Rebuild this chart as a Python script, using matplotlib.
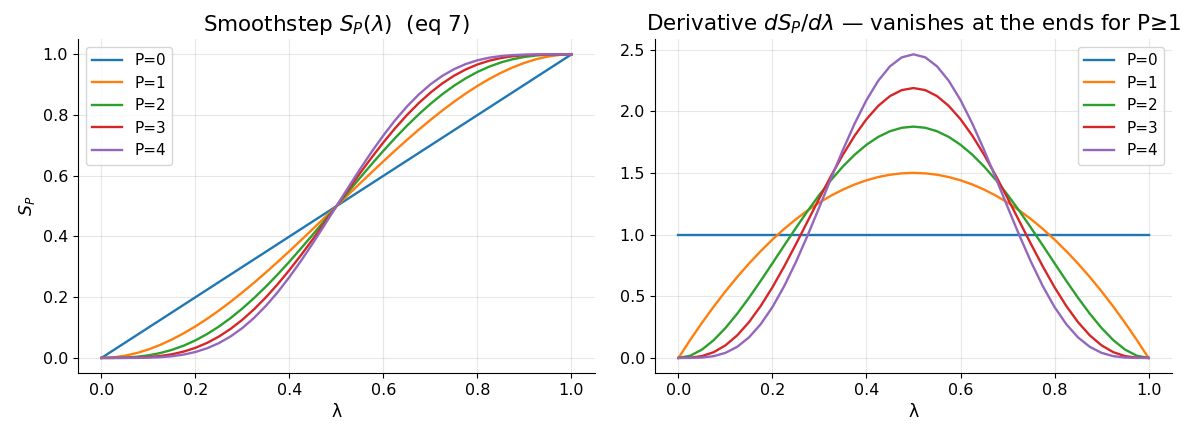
import numpy as np
import matplotlib
matplotlib.use("Agg")
import matplotlib.pyplot as plt

plt.rcParams['font.family'] = ['DejaVu Sans']

# lambda samples (0 .. 1, step 0.025)
lam = [0.000, 0.025, 0.050, 0.075, 0.100, 0.125, 0.150, 0.175, 0.200, 0.225,
       0.250, 0.275, 0.300, 0.325, 0.350, 0.375, 0.400, 0.425, 0.450, 0.475,
       0.500, 0.525, 0.550, 0.575, 0.600, 0.625, 0.650, 0.675, 0.700, 0.725,
       0.750, 0.775, 0.800, 0.825, 0.850, 0.875, 0.900, 0.925, 0.950, 0.975,
       1.000]

labels = ["P=0", "P=1", "P=2", "P=3", "P=4"]

# smoothstep S_P(lambda)
s_p0 = list(lam)
s_p1 = [0.0, 0.00184, 0.00725, 0.01603, 0.028, 0.04297, 0.06075, 0.08116, 0.104, 0.12909,
        0.15625, 0.18528, 0.216, 0.24822, 0.28175, 0.31641, 0.352, 0.38834, 0.42525, 0.46253,
        0.5, 0.53747, 0.57475, 0.61166, 0.648, 0.68359, 0.71825, 0.75178, 0.784, 0.81472,
        0.84375, 0.87091, 0.896, 0.91884, 0.93925, 0.95703, 0.972, 0.98397, 0.99275, 0.99816,
        1.0]
s_p2 = [0.0, 0.00015, 0.00116, 0.00376, 0.00856, 0.01605, 0.02661, 0.04051, 0.05792, 0.07892,
        0.10352, 0.13162, 0.16308, 0.19769, 0.23517, 0.27521, 0.31744, 0.36147, 0.40687, 0.4532,
        0.5, 0.5468, 0.59313, 0.63853, 0.68256, 0.72479, 0.76483, 0.80231, 0.83692, 0.86838,
        0.89648, 0.92108, 0.94208, 0.95949, 0.97339, 0.98395, 0.99144, 0.99624, 0.99884, 0.99985,
        1.0]
s_p3 = [0.0, 0.00001, 0.00019, 0.00092, 0.00273, 0.00624, 0.0121, 0.02095, 0.03334, 0.04976,
        0.07056, 0.09595, 0.12604, 0.16074, 0.19985, 0.24302, 0.28979, 0.33958, 0.39171, 0.44545,
        0.5, 0.55455, 0.60829, 0.66042, 0.71021, 0.75698, 0.80015, 0.83926, 0.87396, 0.90405,
        0.92944, 0.95024, 0.96666, 0.97905, 0.9879, 0.99376, 0.99727, 0.99908, 0.99981, 0.99999,
        1.0]
s_p4 = [0.0, 0.0, 0.00003, 0.00023, 0.00089, 0.00248, 0.00563, 0.01106, 0.01958, 0.03196,
        0.04893, 0.07107, 0.09881, 0.13236, 0.17172, 0.21662, 0.26657, 0.32086, 0.37858, 0.43868,
        0.5, 0.56132, 0.62142, 0.67914, 0.73343, 0.78338, 0.82828, 0.86764, 0.90119, 0.92893,
        0.95107, 0.96804, 0.98042, 0.98894, 0.99437, 0.99752, 0.99911, 0.99977, 0.99997, 1.0,
        1.0]

# derivative dS_P/dlambda
d_p0 = [1.0] * len(lam)
d_p1 = [0.0, 0.14625, 0.285, 0.41625, 0.54, 0.65625, 0.765, 0.86625, 0.96, 1.04625,
        1.125, 1.19625, 1.26, 1.31625, 1.365, 1.40625, 1.44, 1.46625, 1.485, 1.49625,
        1.5, 1.49625, 1.485, 1.46625, 1.44, 1.40625, 1.365, 1.31625, 1.26, 1.19625,
        1.125, 1.04625, 0.96, 0.86625, 0.765, 0.65625, 0.54, 0.41625, 0.285, 0.14625,
        0.0]
d_p2 = [0.0, 0.0178, 0.0677, 0.1444, 0.243, 0.3589, 0.4877, 0.6253, 0.768, 0.9122,
        1.0547, 1.1925, 1.323, 1.4438, 1.5527, 1.6479, 1.728, 1.7916, 1.8377, 1.8656,
        1.875, 1.8656, 1.8377, 1.7916, 1.728, 1.6479, 1.5527, 1.4438, 1.323, 1.1925,
        1.0547, 0.9122, 0.768, 0.6253, 0.4877, 0.3589, 0.243, 0.1444, 0.0677, 0.0178,
        0.0]
d_p3 = [0.0, 0.0020, 0.0150, 0.0467, 0.1021, 0.1832, 0.2902, 0.4213, 0.5734, 0.7423,
        0.9229, 1.1095, 1.2965, 1.4781, 1.6484, 1.8024, 1.9354, 2.0431, 2.1225, 2.1711,
        2.1875, 2.1711, 2.1225, 2.0431, 1.9354, 1.8024, 1.6484, 1.4781, 1.2965, 1.1095,
        0.9229, 0.7423, 0.5734, 0.4213, 0.2902, 0.1832, 0.1021, 0.0467, 0.0150, 0.0020,
        0.0]
d_p4 = [0.0, 0.0002, 0.0032, 0.0146, 0.0413, 0.0902, 0.1665, 0.2737, 0.4129, 0.5825,
        0.7787, 0.9955, 1.2252, 1.4591, 1.6876, 1.9010, 2.0902, 2.2468, 2.3640, 2.4364,
        2.4609, 2.4364, 2.3640, 2.2468, 2.0902, 1.9010, 1.6876, 1.4591, 1.2252, 0.9955,
        0.7787, 0.5825, 0.4129, 0.2737, 0.1665, 0.0902, 0.0413, 0.0146, 0.0032, 0.0002,
        0.0]

smooth = [s_p0, s_p1, s_p2, s_p3, s_p4]
deriv = [d_p0, d_p1, d_p2, d_p3, d_p4]

fig, (ax1, ax2) = plt.subplots(1, 2, figsize=(11.99, 4.4), dpi=100)
fig.subplots_adjust(left=0.065, right=0.9775, bottom=0.152, top=0.911, wspace=0.116)

for lab, ys in zip(labels, smooth):
    ax1.plot(lam, ys, label=lab, lw=1.7)
ax1.set_title(r"Smoothstep $S_P(\lambda)$  (eq 7)", fontsize=15.5)
ax1.set_xlabel("λ", fontsize=12.5)
ax1.set_ylabel(r"$S_P$", fontsize=12.5)
ax1.legend(loc="upper left", fontsize=11)

for lab, ys in zip(labels, deriv):
    ax2.plot(lam, ys, label=lab, lw=1.7)
ax2.set_title(r"Derivative $dS_P/d\lambda$ — vanishes at the ends for P≥1", fontsize=15.5)
ax2.set_xlabel("λ", fontsize=12.5)
ax2.legend(loc="upper right", fontsize=11)

for ax in (ax1, ax2):
    ax.grid(True, alpha=0.3)
    ax.spines["top"].set_visible(False)
    ax.spines["right"].set_visible(False)
    ax.tick_params(labelsize=11.5)

plt.savefig("out.png", dpi=100)
